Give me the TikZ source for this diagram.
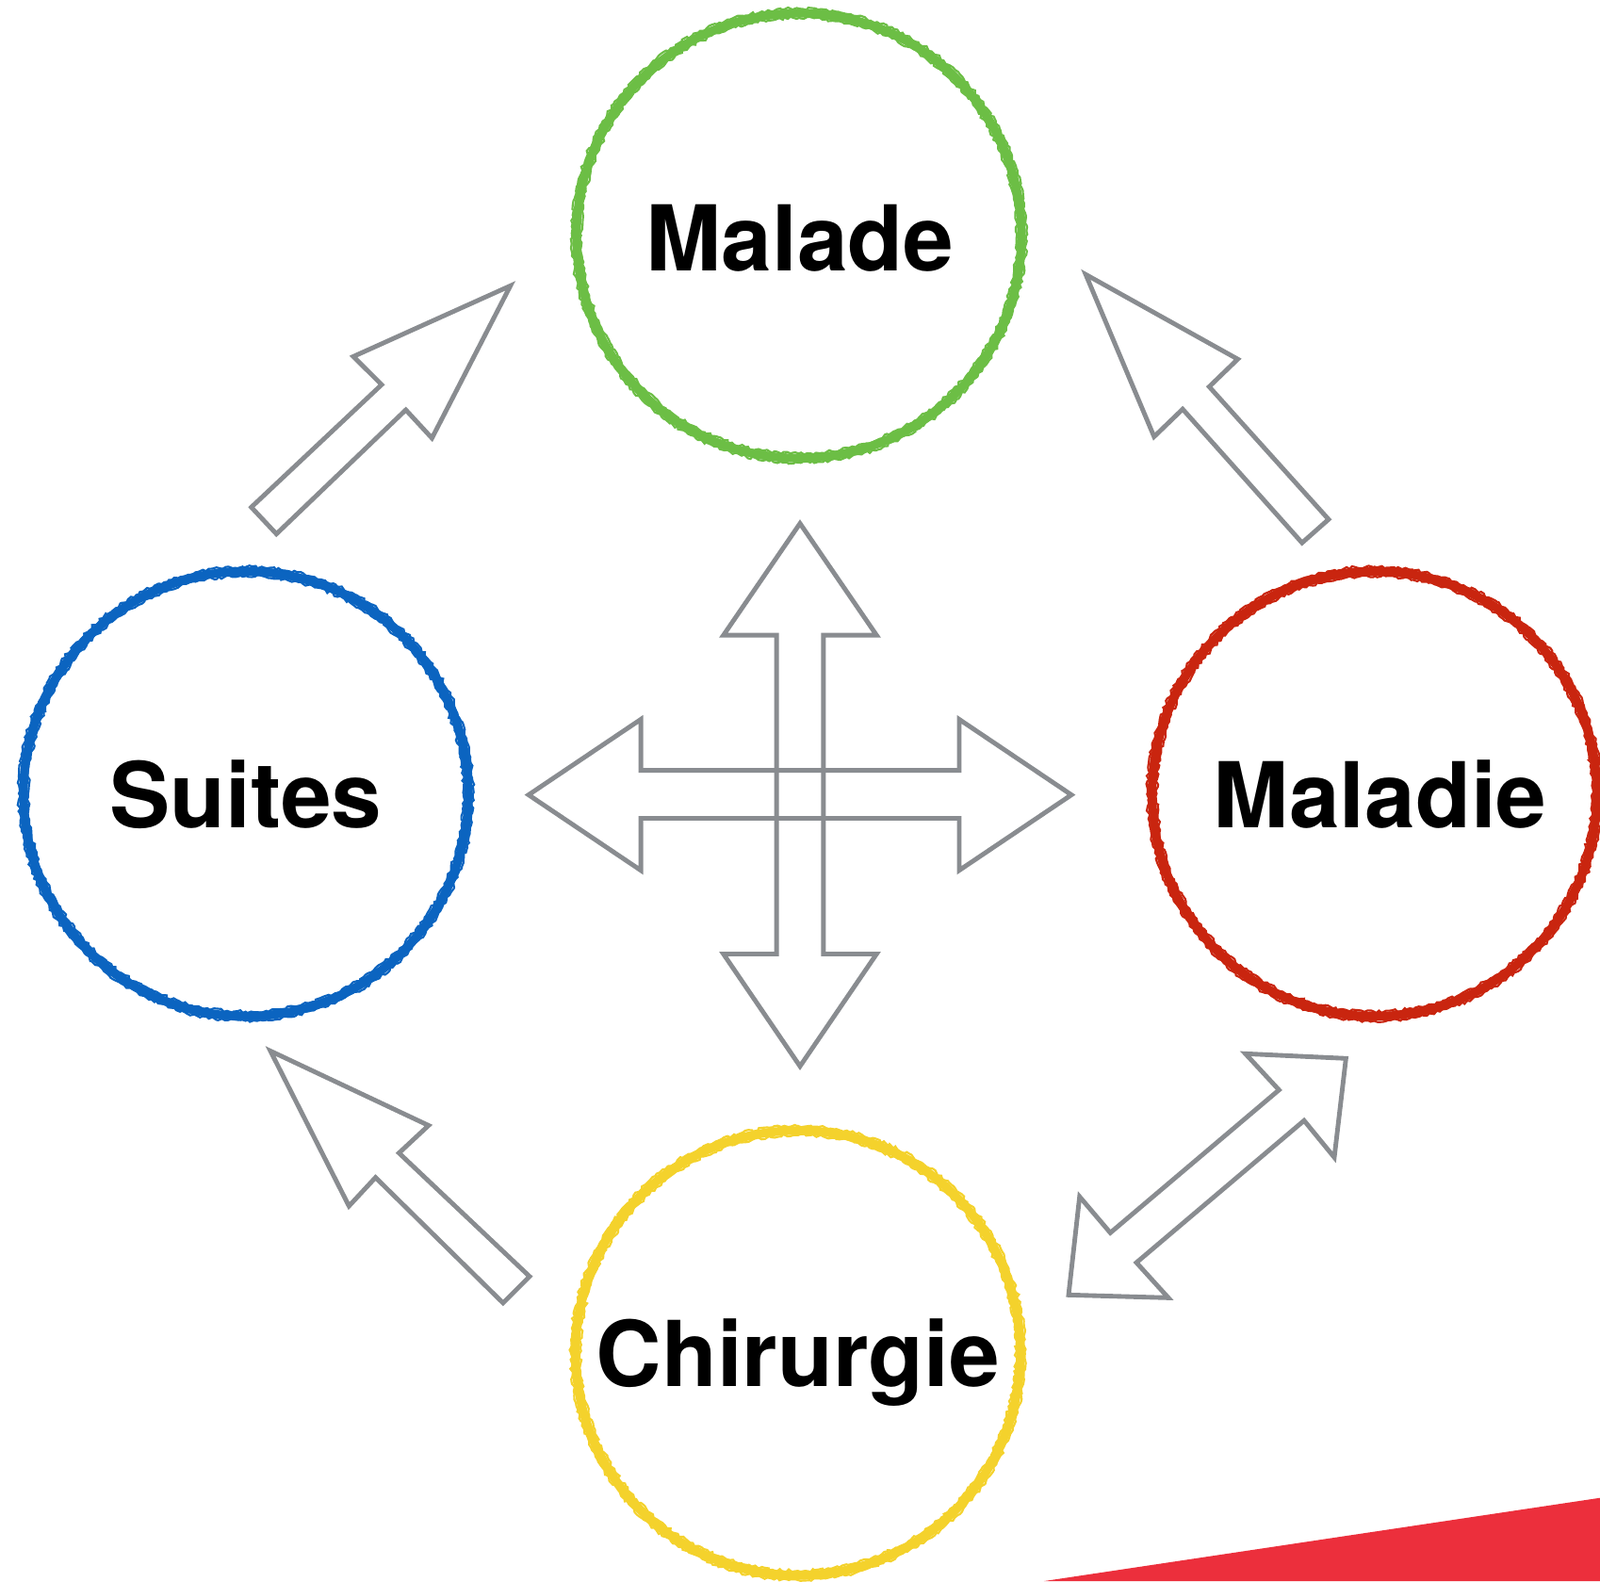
\documentclass[tikz,border=0pt]{standalone}
\usepackage{fontspec}
\setmainfont{TeX Gyre Heros}
\usetikzlibrary{decorations.pathmorphing}
\definecolor{mgreen}{HTML}{6CBE45}
\definecolor{mblue}{HTML}{0B64C0}
\definecolor{mred}{HTML}{C9250F}
\definecolor{myellow}{HTML}{F4D22C}
\definecolor{arrowgray}{HTML}{898C90}
\definecolor{bandred}{HTML}{EC2F3C}
\tikzset{
  ring/.style={circle, draw=#1, line width=8.5pt, minimum size=436pt, inner sep=0pt},
  grain/.style={draw=#1, line width=2pt, decorate, decoration={random steps, segment length=3pt, amplitude=1.4pt}},
  lbl/.style={font=\bfseries\fontsize{89}{100}\selectfont, inner sep=0pt, text height=64pt, text depth=0pt},
  garrow/.style={draw=arrowgray, line width=4.5pt, line join=miter},
}
\begin{document}
\begin{tikzpicture}[x=1pt,y=-1pt]
\useasboundingbox (0,0) rectangle (1568,1549.6);
% red band
\fill[bandred] (1023,1549.6) -- (1568,1468) -- (1568,1549.6) -- cycle;
% circles
\node[ring=mgreen] (malade) at (783,231) {};
\draw[grain=mgreen] (malade.center) circle[radius=222.5];
\draw[grain=mgreen] (malade.center) circle[radius=213.5];
\node[ring=mblue] (suites) at (241,778) {};
\draw[grain=mblue] (suites.center) circle[radius=222.5];
\draw[grain=mblue] (suites.center) circle[radius=213.5];
\node[ring=mred] (maladie) at (1347,778) {};
\draw[grain=mred] (maladie.center) circle[radius=222.5];
\draw[grain=mred] (maladie.center) circle[radius=213.5];
\node[ring=myellow] (chirurgie) at (782,1326) {};
\draw[grain=myellow] (chirurgie.center) circle[radius=222.5];
\draw[grain=myellow] (chirurgie.center) circle[radius=213.5];
% labels
\node[lbl] (tmalade) at (784,233.5) {Malade};
\node[lbl] (tsuites) at (241,779) {Suites};
\node[lbl] (tmaladie) at (1352.5,779.6) {Maladie};
\node[lbl] (tchirurgie) at (782,1326.7) {Chirurgie};
% arrows
\draw[garrow] (246.3,497.1) -- (374,377) -- (346.3,349.4) -- (500.2,280.1) -- (423.3,429.4) -- (397.7,401.7) -- (270.9,523.3) -- cycle;
\draw[garrow] (1064,269) -- (1213,352) -- (1185,379) -- (1302,509) -- (1276,532) -- (1159,401) -- (1131,428) -- cycle;
\draw[garrow] (265,1030) -- (420,1103) -- (391,1130) -- (519,1251) -- (493,1277) -- (368,1154) -- (342,1182) -- cycle;
\draw[garrow] (1220.5,1032.7) -- (1319,1037.3) -- (1307.6,1134.3) -- (1278,1098.2) -- (1113.7,1237.4) -- (1145,1271.9) -- (1047.2,1269.1) -- (1058,1172.8) -- (1088.1,1208.2) -- (1253.4,1068.2) -- cycle;
% cross
\draw[garrow] (784,513) -- (859,622.5) -- (807,622.5) -- (807,935) -- (859,935) -- (784,1045) -- (709,935) -- (761,935) -- (761,622.5) -- (709,622.5) -- cycle;
\draw[garrow] (518,779) -- (628,705) -- (628,755) -- (940,755) -- (940,705) -- (1050,779) -- (940,853) -- (940,802) -- (628,802) -- (628,853) -- cycle;
\end{tikzpicture}
\end{document}
